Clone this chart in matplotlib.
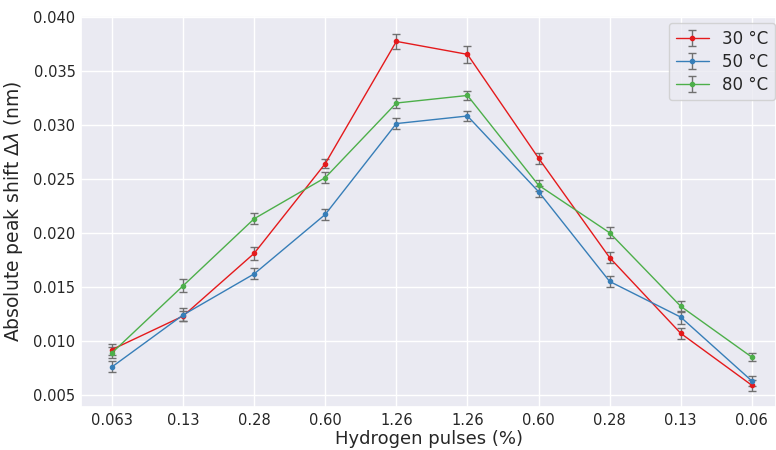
import matplotlib
matplotlib.use("Agg")
import matplotlib.pyplot as plt
import seaborn as sns

# data
pulses = ["0.063", "0.13", "0.28", "0.60", "1.26", "1.26", "0.60", "0.28", "0.13", "0.06"]
shift_30 = [0.0092, 0.0123, 0.0181, 0.0264, 0.0377, 0.0365, 0.0269, 0.0177, 0.0107, 0.0059]
err_30 = [0.0005, 0.0005, 0.0006, 0.0004, 0.0007, 0.0008, 0.0005, 0.0005, 0.0005, 0.0005]
shift_50 = [0.0076, 0.0124, 0.0162, 0.0217, 0.0301, 0.0308, 0.0238, 0.0155, 0.0122, 0.0063]
err_50 = [0.0005, 0.0006, 0.0005, 0.0005, 0.0005, 0.0005, 0.0005, 0.0005, 0.0006, 0.0005]
shift_80 = [0.0089, 0.0151, 0.0213, 0.0251, 0.0320, 0.0327, 0.0244, 0.0200, 0.0132, 0.0085]
err_80 = [0.0005, 0.0006, 0.0005, 0.0005, 0.0005, 0.0004, 0.0005, 0.0005, 0.0005, 0.0004]

sns.set_theme(style="darkgrid")
plt.rcParams['font.family'] = ['DejaVu Sans']

fig = plt.figure(figsize=(7.76, 4.5), dpi=100)
ax = fig.add_axes([0.1044, 0.0956, 0.8956, 0.8689])

x = list(range(len(pulses)))
series = [
    (shift_30, err_30, "#e41a1c", "30 °C"),
    (shift_50, err_50, "#377eb8", "50 °C"),
    (shift_80, err_80, "#4daf4a", "80 °C"),
]
for y, e, c, lab in series:
    ax.errorbar(x, y, yerr=e, color=c, marker="o", markersize=3, linewidth=1,
                ecolor="#707070", elinewidth=1, capsize=3, label=lab)

ax.set_xticks(x)
ax.set_xticklabels(pulses)
ax.set_xlim(-0.436, 9.34)
ax.set_ylim(0.00389, 0.04005)
ax.set_yticks([0.005, 0.010, 0.015, 0.020, 0.025, 0.030, 0.035, 0.040])
ax.tick_params(labelsize=10.5, length=0, pad=4)
ax.set_xlabel("Hydrogen pulses (%)", fontsize=13, labelpad=2)
ax.set_ylabel(r"Absolute peak shift $\Delta\lambda$ (nm)", fontsize=13.5, labelpad=6)
ax.legend(loc="upper right", bbox_to_anchor=(0.999, 0.982), borderaxespad=0,
          fontsize=12, handlelength=2, labelspacing=0.3)

fig.savefig("out.png", dpi=100)
